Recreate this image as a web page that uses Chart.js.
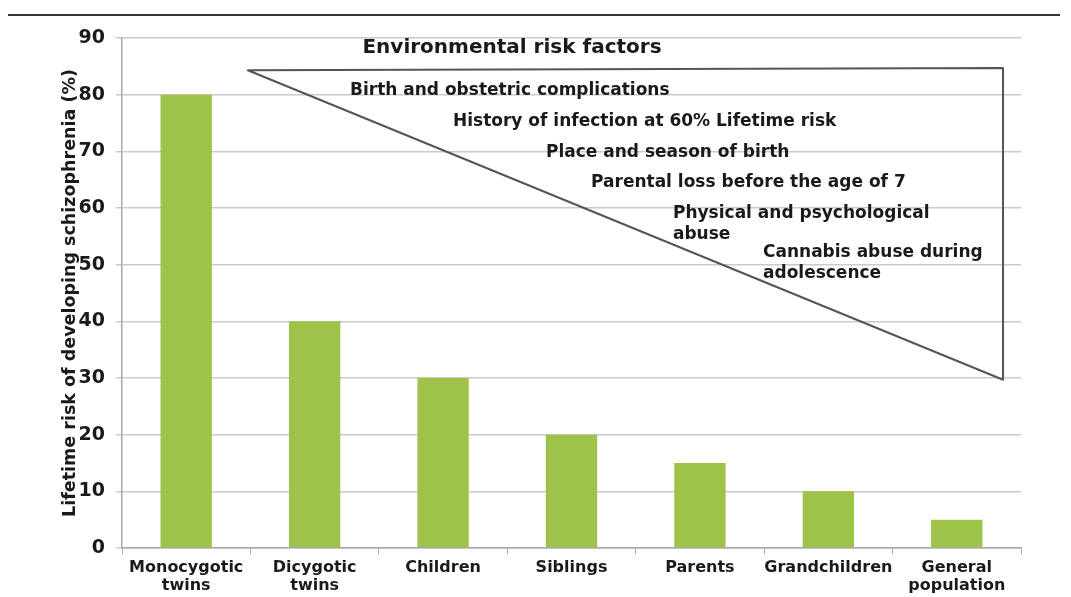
<!DOCTYPE html>
<html>
<head>
<meta charset="utf-8">
<script src="https://cdn.jsdelivr.net/npm/chart.js@4.4.0/dist/chart.umd.min.js"></script>
<style>
  html, body { margin: 0; padding: 0; background: #fff; }
  #riskChart { display: block; }
</style>
</head>
<body>
<canvas id="riskChart" width="1071" height="597"></canvas>
<script>
// data
const categories = [['Monocygotic', 'twins'], ['Dicygotic', 'twins'], 'Children', 'Siblings', 'Parents', 'Grandchildren', ['General', 'population']];
const lifetimeRisk = [80, 40, 30, 20, 15, 10, 5];
const yTicks = [0, 10, 20, 30, 40, 50, 60, 70, 80, 90];

// environmental risk factor triangle, in (category index, % risk) units
const triangleX = [0.48, 6.36, 6.36];
const triangleY = [84.3, 84.7, 29.7];
const envTitle = 'Environmental risk factors';
const envFactors = [
    ['Birth and obstetric complications'],
    ['History of infection at 60% Lifetime risk'],
    ['Place and season of birth'],
    ['Parental loss before the age of 7'],
    ['Physical and psychological', 'abuse'],
    ['Cannabis abuse during', 'adolescence']
];

const fontFam = '"DejaVu Sans", Verdana, sans-serif';
const textCol = '#1a1a1a';

const overlayPlugin = {
    id: 'overlay',
    beforeDraw(chart) {
        const c = chart.ctx;
        c.save();
        c.strokeStyle = '#333';
        c.lineWidth = 2;
        c.beginPath();
        c.moveTo(8, 15);
        c.lineTo(1060, 15);
        c.stroke();
        c.restore();
    },
    afterDatasetsDraw(chart) {
        const c = chart.ctx;
        const xs = chart.scales.x, ys = chart.scales.y;
        c.save();
        // triangle
        c.strokeStyle = '#555';
        c.lineWidth = 2;
        c.lineJoin = 'round';
        c.beginPath();
        triangleX.forEach((v, i) => {
            const px = xs.getPixelForValue(v), py = ys.getPixelForValue(triangleY[i]);
            if (i === 0) c.moveTo(px, py); else c.lineTo(px, py);
        });
        c.closePath();
        c.stroke();

        c.fillStyle = textCol;
        c.textBaseline = 'middle';
        c.font = 'bold 20px ' + fontFam;
        c.textAlign = 'center';
        c.fillText(envTitle, xs.getPixelForValue(2.537), ys.getPixelForValue(88.2));

        // left x position and y of first line for each factor
        const spots = [[1.275, 80.8], [2.077, 75.2], [2.801, 69.7], [3.152, 64.4], [3.79, 59.1], [4.491, 52.1]];
        c.font = 'bold 17px ' + fontFam;
        c.textAlign = 'left';
        envFactors.forEach((lines, i) => {
            const px = xs.getPixelForValue(spots[i][0]);
            let py = ys.getPixelForValue(spots[i][1]);
            lines.forEach(t => {
                c.fillText(t, px, py);
                py += 21;
            });
        });
        c.restore();
    }
};

const ctx = document.getElementById('riskChart').getContext('2d');
const riskChart = new Chart(ctx, {
    type: 'bar',
    data: {
        labels: categories,
        datasets: [{
            data: lifetimeRisk,
            backgroundColor: '#9dc34b',
            borderWidth: 0,
            barPercentage: 0.4,
            categoryPercentage: 1
        }]
    },
    options: {
        responsive: false,
        animation: false,
        layout: { padding: { top: 38, right: 50, left: 0, bottom: 0 } },
        plugins: {
            legend: { display: false },
            tooltip: { enabled: false }
        },
        scales: {
            x: {
                grid: { display: true, drawOnChartArea: false, color: '#a8a8a8', tickLength: 6, offset: true },
                border: { color: '#a8a8a8', width: 1.5 },
                ticks: {
                    color: textCol,
                    font: { family: fontFam, size: 16, weight: 'bold', lineHeight: 1.12 },
                    padding: 5,
                    maxRotation: 0,
                    autoSkip: false
                },
                afterFit(scale) { scale.height = 49; }
            },
            y: {
                min: 0,
                max: 90,
                afterBuildTicks(scale) { scale.ticks = yTicks.map(v => ({ value: v })); },
                grid: { color: '#cacaca', lineWidth: 1.5, tickLength: 6 },
                border: { color: '#a8a8a8', width: 1.5 },
                ticks: {
                    color: textCol,
                    font: { family: fontFam, size: 19, weight: 'bold' },
                    padding: 11
                },
                title: {
                    display: true,
                    text: 'Lifetime risk of developing schizophrenia (%)',
                    color: textCol,
                    font: { family: fontFam, size: 17.5, weight: 'bold' },
                    padding: { top: 60, bottom: 0 }
                },
                afterFit(scale) { scale.width = 122; }
            }
        }
    },
    plugins: [overlayPlugin]
});
</script>
</body>
</html>
